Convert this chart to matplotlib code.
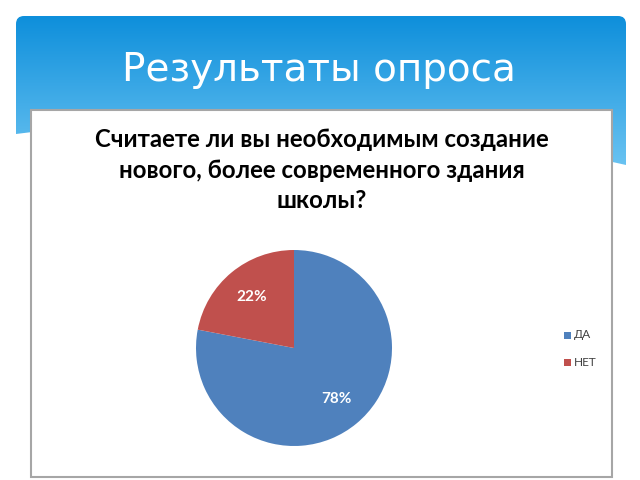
import numpy as np
import matplotlib.pyplot as plt
from matplotlib.path import Path
from matplotlib.patches import PathPatch, Rectangle

slide_title = "Результаты опроса"
chart_title = "Считаете ли вы необходимым создание\nнового, более современного здания\nшколы?"
labels = ["ДА", "НЕТ"]
shares = [78, 22]
colors = ["#4F81BD", "#C0504D"]

W, H = 640, 480
fig = plt.figure(figsize=(6.4, 4.8), dpi=100)
fig.patch.set_facecolor("white")

# background axes in pixel coordinates (y down)
bg = fig.add_axes([0, 0, 1, 1])
bg.set_xlim(0, W)
bg.set_ylim(H, 0)
bg.axis("off")

# blue header band with wavy bottom edge
r = 8
verts = [
    (16, 134), (16, 16 + r), (16, 16), (16 + r, 16),
    (626 - r, 16), (626, 16), (626, 16 + r),
    (626, 165), (320, 95), (16, 134),
]
codes = [
    Path.MOVETO, Path.LINETO, Path.CURVE3, Path.CURVE3,
    Path.LINETO, Path.CURVE3, Path.CURVE3,
    Path.LINETO, Path.CURVE3, Path.CURVE3,
]
band = PathPatch(Path(verts, codes), facecolor="none", edgecolor="none")
bg.add_patch(band)
grad = np.linspace(0, 1, 256).reshape(-1, 1)
top = np.array([0x0E, 0x8F, 0xDB]) / 255
bottom = np.array([0x6C, 0xC4, 0xF2]) / 255
img = top + (bottom - top) * grad[..., None]
im = bg.imshow(img, extent=(16, 626, 170, 16), aspect="auto", zorder=1)
im.set_clip_path(band)

bg.text(319, 70, slide_title, color="white", fontsize=28,
        family="DejaVu Sans", ha="center", va="center", zorder=3)

# white chart box
bg.add_patch(Rectangle((31, 110), 581, 367, facecolor="white",
                       edgecolor="#A6A6A6", linewidth=1.5, zorder=2))

bg.text(322, 170, chart_title, color="black", fontsize=17.3, fontweight="bold",
        family="Lato", ha="center", va="center", linespacing=1.4, zorder=3)

# pie
cx, cy, rad = 294, 348, 98
ax = fig.add_axes([(cx - rad) / W, (H - cy - rad) / H, 2 * rad / W, 2 * rad / H])
wedges, texts, autotexts = ax.pie(
    shares, colors=colors, startangle=90, counterclock=False,
    autopct="%d%%", pctdistance=0.68,
    textprops=dict(color="white", fontsize=11, fontweight="bold", family="Lato"),
    wedgeprops=dict(linewidth=0),
)
ax.set_xlim(-1, 1)
ax.set_ylim(-1, 1)

# legend
for i, (lab, col) in enumerate(zip(labels, colors)):
    y = 335 + i * 27
    bg.add_patch(Rectangle((564, y - 3.5), 7, 7, facecolor=col, edgecolor="none", zorder=3))
    bg.text(574, y, lab, color="#404040", fontsize=8.5, family="Lato",
            ha="left", va="center", zorder=3)

fig.savefig("out.png", dpi=100)
